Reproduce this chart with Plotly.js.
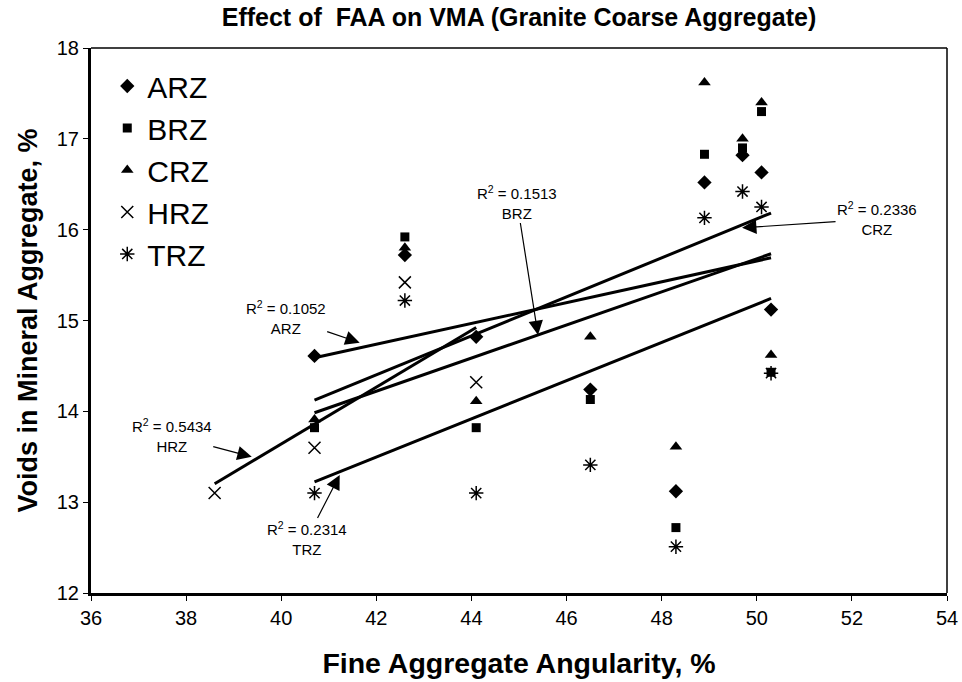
<!DOCTYPE html>
<html>
<head>
<meta charset="utf-8">
<script src="https://cdn.plot.ly/plotly-3.0.1.min.js"></script>
<style>html,body{margin:0;padding:0;background:#fff;}#chart{width:962px;height:682px;}</style>
</head>
<body>
<div id="chart"></div>
<script>
// ---- data ----
const faa = [40.7, 42.6, 44.1, 46.5, 48.3, 48.9, 49.7, 50.1, 50.3];
const arz = [14.61, 15.72, 14.82, 14.24, 13.12, 16.52, 16.82, 16.63, 15.12];
const brz = [13.82, 15.92, 13.82, 14.13, 12.72, 16.83, 16.90, 17.30, 14.43];
const crz = [13.91, 15.80, 14.11, 14.82, 13.61, 17.62, 17.00, 17.40, 14.62];
const hrzX = [38.6, 40.7, 42.6, 44.1];
const hrz = [13.10, 13.60, 15.42, 14.32];
const trz = [13.10, 15.22, 13.10, 13.41, 12.51, 16.13, 16.42, 16.25, 14.42];
const seriesNames = ['ARZ', 'BRZ', 'CRZ', 'HRZ', 'TRZ'];
const r2Labels = ['0.1052', '0.1513', '0.2336', '0.5434', '0.2314'];
const xTicks = [36, 38, 40, 42, 44, 46, 48, 50, 52, 54];
const yTicks = [12, 13, 14, 15, 16, 17, 18];

// ---- least-squares trendline from the data ----
function trend(xs, ys) {
  const n = xs.length;
  const mx = xs.reduce((a, b) => a + b, 0) / n;
  const my = ys.reduce((a, b) => a + b, 0) / n;
  let sxy = 0, sxx = 0;
  for (let i = 0; i < n; i++) { sxy += (xs[i] - mx) * (ys[i] - my); sxx += (xs[i] - mx) ** 2; }
  const b = sxy / sxx, a = my - b * mx;
  const x0 = Math.min(...xs), x1 = Math.max(...xs);
  return { x: [x0, x1], y: [a + b * x0, a + b * x1] };
}

const FONT = 'Arial, "Liberation Sans", sans-serif';
const sets = [
  { name: seriesNames[0], x: faa, y: arz, marker: { symbol: 'diamond', size: 11, color: '#000' } },
  { name: seriesNames[1], x: faa, y: brz, marker: { symbol: 'square', size: 9, color: '#000' } },
  { name: seriesNames[2], x: faa, y: crz, marker: { symbol: 'triangle-up', size: 11, color: '#000' } },
  { name: seriesNames[3], x: hrzX, y: hrz, marker: { symbol: 'x-thin-open', size: 12, color: '#000', line: { width: 1.5, color: '#000' } } },
  { name: seriesNames[4], x: faa, y: trz, marker: { symbol: 'asterisk-open', size: 12, color: '#000', line: { width: 1.5, color: '#000' } } }
];

const traces = [];
sets.forEach((s) => {
  const t = trend(s.x, s.y);
  traces.push({ x: t.x, y: t.y, mode: 'lines', line: { color: '#000', width: 3 }, showlegend: false, hoverinfo: 'skip', legendgroup: s.name });
});
sets.forEach((s) => {
  traces.push({ x: s.x, y: s.y, name: s.name, mode: 'markers', type: 'scatter', marker: s.marker, legendgroup: s.name });
});

function lbl(i) { return 'R<sup>2</sup> = ' + r2Labels[i] + '<br>' + seriesNames[i]; }
const annFont = { family: FONT, size: 15, color: '#000' };
const arrowBase = { showarrow: true, arrowhead: 2, arrowsize: 2.4, arrowwidth: 1.2, arrowcolor: '#000', xref: 'x', yref: 'y', font: annFont, align: 'center' };
// x,y = arrow tip on the trendline; ax/ay = pixel offset of the label centre
const annotations = [
  Object.assign({}, arrowBase, { text: lbl(0), x: 41.65, y: 14.756, ax: -74, ay: -25 }),
  Object.assign({}, arrowBase, { text: lbl(1), x: 45.4, y: 14.84, ax: -21, ay: -133 }),
  Object.assign({}, arrowBase, { text: lbl(2), x: 49.69, y: 16.02, ax: 135, ay: -9 }),
  Object.assign({}, arrowBase, { text: lbl(3), x: 39.38, y: 13.50, ax: -80, ay: -21 }),
  Object.assign({}, arrowBase, { text: lbl(4), x: 41.23, y: 13.30, ax: -33, ay: 64 })
];

const layout = {
  width: 962, height: 682,
  margin: { l: 91, r: 15, t: 48, b: 89 },
  paper_bgcolor: '#fff', plot_bgcolor: '#fff',
  font: { family: FONT, color: '#000', size: 20 },
  title: { text: '<b>Effect of\u00a0 FAA on VMA (Granite Coarse Aggregate)</b>', font: { family: FONT, size: 25, color: '#000' }, x: 0.5, xref: 'paper', y: 0.974, yref: 'container', yanchor: 'middle' },
  xaxis: {
    range: [36, 54], tickvals: xTicks, ticktext: xTicks.map(String),
    showgrid: false, zeroline: false, showline: true, linewidth: 3, linecolor: '#000',
    ticks: 'outside', ticklen: 5, tickwidth: 1, tickcolor: '#000',
    tickfont: { family: FONT, size: 20, color: '#000' },
    title: { text: '<b>Fine Aggregate Angularity, %</b>', font: { family: FONT, size: 28.5, color: '#000' }, standoff: 26 },
    automargin: false
  },
  yaxis: {
    range: [12, 18], tickvals: yTicks, ticktext: yTicks.map(String),
    showgrid: false, zeroline: false, showline: true, linewidth: 3, linecolor: '#000',
    ticks: 'outside', ticklen: 5, tickwidth: 1, tickcolor: '#000',
    tickfont: { family: FONT, size: 20, color: '#000' },
    title: { text: '<b>Voids in Mineral Aggregate, %</b>', font: { family: FONT, size: 27, color: '#000' }, standoff: 12 },
    automargin: false
  },
  legend: { x: 0.019, y: 0.978, xanchor: 'left', yanchor: 'top', bgcolor: 'rgba(0,0,0,0)', borderwidth: 0, font: { family: FONT, size: 30, color: '#000' }, tracegroupgap: 0, traceorder: 'grouped' },
  shapes: [
    { type: 'line', xref: 'paper', yref: 'paper', x0: 0, x1: 1, y0: 1, y1: 1, line: { color: '#000', width: 1.5 } },
    { type: 'line', xref: 'paper', yref: 'paper', x0: 1, x1: 1, y0: 0, y1: 1, line: { color: '#000', width: 1.5 } }
  ],
  annotations: annotations,
  showlegend: true
};

Plotly.newPlot('chart', traces, layout, { displayModeBar: false, staticPlot: true });
</script>
</body>
</html>
